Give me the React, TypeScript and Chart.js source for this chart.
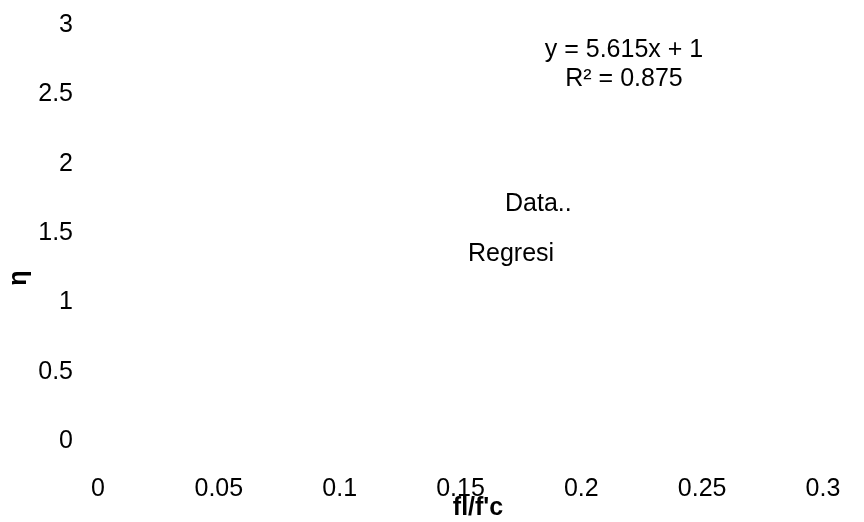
import React, { useEffect, useRef } from 'react';
import { Chart, registerables } from 'chart.js';

Chart.register(...registerables);

// ---- data ----
const seriesNames = ['Data..', 'Regresi'];
const measuredPoints: { x: number; y: number }[] = [];
const regressionPoints: { x: number; y: number }[] = [];
const xTickValues = [0, 0.05, 0.1, 0.15, 0.2, 0.25, 0.3];
const xTickLabels = ['0', '0.05', '0.1', '0.15', '0.2', '0.25', '0.3'];
const yTickValues = [0, 0.5, 1, 1.5, 2, 2.5, 3];
const yTickLabels = ['0', '0.5', '1', '1.5', '2', '2.5', '3'];
const xAxisTitle = "fl/f'c";
const yAxisTitle = 'η';
const regressionSlope = 5.615;
const regressionIntercept = 1;
const rSquared = 0.875;

const FONT_FAMILY = '"Liberation Sans", Arial, sans-serif';
const FONT_SIZE = 25;

function labelFor(values: number[], labels: string[], v: number) {
  const i = values.findIndex((t) => Math.abs(t - v) < 1e-9);
  return i >= 0 ? labels[i] : '';
}

const textPlugin = {
  id: 'textOverlay',
  afterDraw(chart: any) {
    const ctx = chart.ctx as CanvasRenderingContext2D;
    ctx.save();
    ctx.fillStyle = '#000';
    ctx.font = `${FONT_SIZE}px ${FONT_FAMILY}`;
    ctx.textBaseline = 'middle';
    // regression equation
    ctx.textAlign = 'center';
    ctx.fillText(`y = ${regressionSlope}x + ${regressionIntercept}`, 624, 50);
    ctx.fillText(`R² = ${rSquared}`, 624, 79);
    // legend
    ctx.textAlign = 'left';
    ctx.fillText(chart.data.datasets[0].label, 505, 204);
    ctx.fillText(chart.data.datasets[1].label, 468, 254);
    // axis titles
    ctx.font = `bold ${FONT_SIZE}px ${FONT_FAMILY}`;
    ctx.textAlign = 'center';
    ctx.fillText(xAxisTitle, 478, 508);
    ctx.translate(19, 278);
    ctx.rotate(-Math.PI / 2);
    ctx.fillText(yAxisTitle, 0, 0);
    ctx.restore();
  },
};

export default function App() {
  const ref = useRef<HTMLCanvasElement | null>(null);
  useEffect(() => {
    if (!ref.current) return;
    const tickFont = { family: FONT_FAMILY, size: FONT_SIZE };
    const chart = new Chart(ref.current, {
      type: 'scatter',
      data: {
        datasets: [
          {
            label: seriesNames[0],
            data: measuredPoints,
            backgroundColor: '#000',
            borderColor: '#000',
            pointRadius: 4,
          },
          {
            label: seriesNames[1],
            data: regressionPoints,
            showLine: true,
            borderColor: '#000',
            pointRadius: 0,
          },
        ],
      },
      options: {
        animation: false,
        responsive: false,
        devicePixelRatio: 1,
        layout: { padding: { top: 25, right: 41, left: 0, bottom: 0 } },
        plugins: { legend: { display: false }, tooltip: { enabled: false } },
        scales: {
          x: {
            type: 'linear',
            min: 0,
            max: 0.3,
            grid: { display: false, drawTicks: true, tickLength: 33 },
            border: { display: false },
            ticks: {
              stepSize: 0.05,
              padding: 0,
              maxRotation: 0,
              autoSkip: false,
              color: '#000',
              font: tickFont,
              callback: (v: any) => labelFor(xTickValues, xTickLabels, Number(v)),
            },
            afterFit: (s: any) => {
              s.height = 81;
            },
          },
          y: {
            type: 'linear',
            min: 0,
            max: 3,
            grid: { display: false, drawTicks: true, tickLength: 25 },
            border: { display: false },
            ticks: {
              stepSize: 0.5,
              padding: 0,
              autoSkip: false,
              color: '#000',
              font: tickFont,
              callback: (v: any) => labelFor(yTickValues, yTickLabels, Number(v)),
            },
            afterFit: (s: any) => {
              s.width = 98;
            },
          },
        },
      },
      plugins: [textPlugin],
    } as any);
    return () => chart.destroy();
  }, []);
  return (
    <div style={{ position: 'fixed', left: 0, top: 0, width: 864, height: 522, background: '#fff' }}>
      <canvas ref={ref} width={864} height={522} style={{ width: 864, height: 522, display: 'block' }} />
    </div>
  );
}
